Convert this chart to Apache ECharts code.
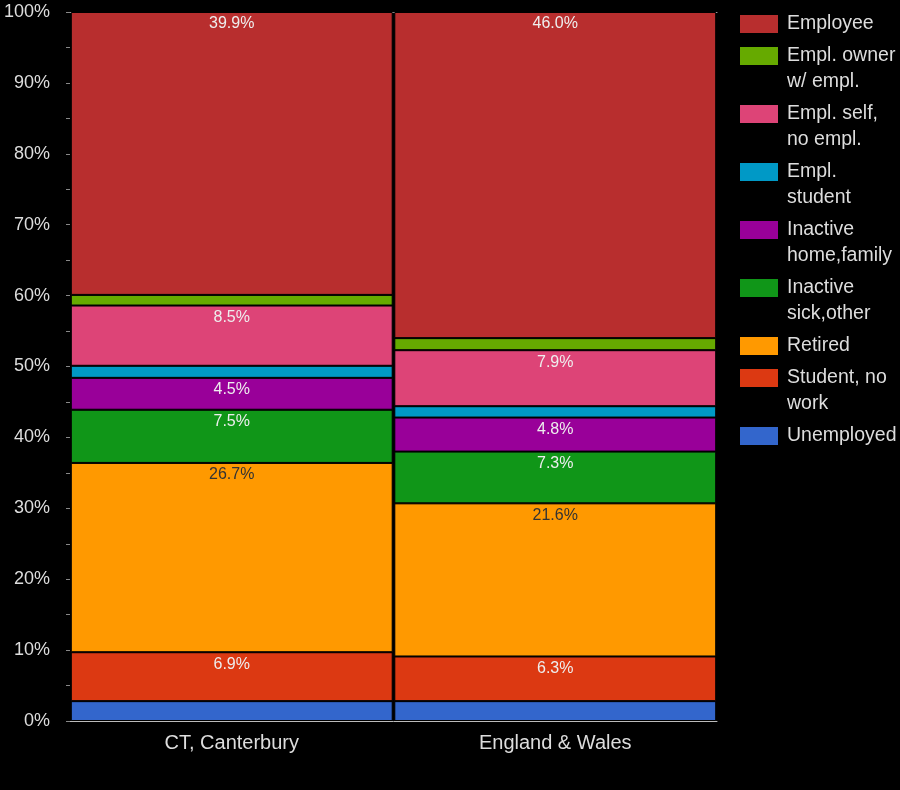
<!DOCTYPE html>
<html><head><meta charset="utf-8">
<script src="https://cdn.jsdelivr.net/npm/echarts@6/dist/echarts.min.js"></script>
<style>html,body{margin:0;padding:0;background:#000;}#c{width:900px;height:790px;}</style>
</head><body><div id="c"></div>
<script>
const categories = ['CT, Canterbury', 'England & Wales'];
const seriesNames = ['Unemployed', 'Student, no\nwork', 'Retired', 'Inactive\nsick,other', 'Inactive\nhome,family', 'Empl.\nstudent', 'Empl. self,\nno empl.', 'Empl. owner\nw/ empl.', 'Employee'];
const seriesColors = ['#3366cc', '#dc3912', '#ff9900', '#109618', '#990099', '#0099c6', '#dd4477', '#66aa00', '#b82e2e'];
const unemployed = [2.8, 2.8];
const studentNoWork = [6.9, 6.3];
const retired = [26.7, 21.6];
const inactiveSick = [7.5, 7.3];
const inactiveHome = [4.5, 4.8];
const emplStudent = [1.7, 1.6];
const emplSelf = [8.5, 7.9];
const emplOwner = [1.5, 1.7];
const employee = [39.9, 46.0];
const seriesValues = [unemployed, studentNoWork, retired, inactiveSick, inactiveHome, emplStudent, emplSelf, emplOwner, employee];
const yTicks = [0, 10, 20, 30, 40, 50, 60, 70, 80, 90, 100];

const FONT = 'Liberation Sans';
const chart = echarts.init(document.getElementById('c'));
const series = seriesNames.map((name, i) => ({
  name: name,
  type: 'bar',
  stack: 'all',
  barCategoryGap: '0.5%',
  data: seriesValues[i],
  itemStyle: { color: seriesColors[i], borderColor: '#000', borderWidth: 1 },
  label: {
    show: true,
    position: 'insideTop',
    distance: 4,
    fontFamily: FONT,
    fontSize: 16,
    color: name === 'Retired' ? '#333' : '#eee',
    formatter: p => (p.value >= 4 ? p.value.toFixed(1) + '%' : '')
  }
}));

// one legend per entry so two-line labels keep their swatch beside the first line
const legendOrder = seriesNames.slice().reverse();
const legends = [];
let y = 6;
legendOrder.forEach(n => {
  const twoLine = n.indexOf('\n') >= 0;
  legends.push({
    orient: 'vertical',
    left: 733,
    top: y,
    itemWidth: 40,
    itemHeight: twoLine ? 46 : 20,
    itemGap: 0,
    selectedMode: false,
    data: [{ name: n, icon: twoLine ? 'path://M0,0M40,46M0,0L40,0L40,20L0,20Z' : 'rect' }],
    textStyle: { color: '#ddd', fontFamily: FONT, fontSize: 19.5, lineHeight: 26, padding: [0, 0, 0, 3] }
  });
  y += twoLine ? 58 : 32;
});

chart.setOption({
  backgroundColor: '#000',
  animation: false,
  grid: { left: 70, right: 183, top: 12, bottom: 69 },
  legend: legends,
  xAxis: [{
    type: 'category',
    data: categories,
    axisLine: { show: true, lineStyle: { color: '#bbb', width: 1 } },
    axisTick: { show: false },
    axisLabel: { color: '#ddd', fontFamily: FONT, fontSize: 20, margin: 12 }
  }, {
    type: 'category',
    position: 'top',
    data: categories,
    axisLine: { show: true, lineStyle: { color: '#aaa', width: 1 } },
    axisTick: { show: false },
    axisLabel: { show: false }
  }],
  yAxis: {
    type: 'value',
    min: yTicks[0],
    max: yTicks[yTicks.length - 1],
    interval: 10,
    splitLine: { show: false },
    axisLine: { show: false },
    axisTick: { show: true, length: 4, lineStyle: { color: '#888' } },
    minorTick: { show: true, splitNumber: 2, length: 4, lineStyle: { color: '#888' } },
    axisLabel: { color: '#ddd', fontFamily: FONT, fontSize: 18, margin: 20, formatter: '{value}%' }
  },
  series: series
});
</script></body></html>
